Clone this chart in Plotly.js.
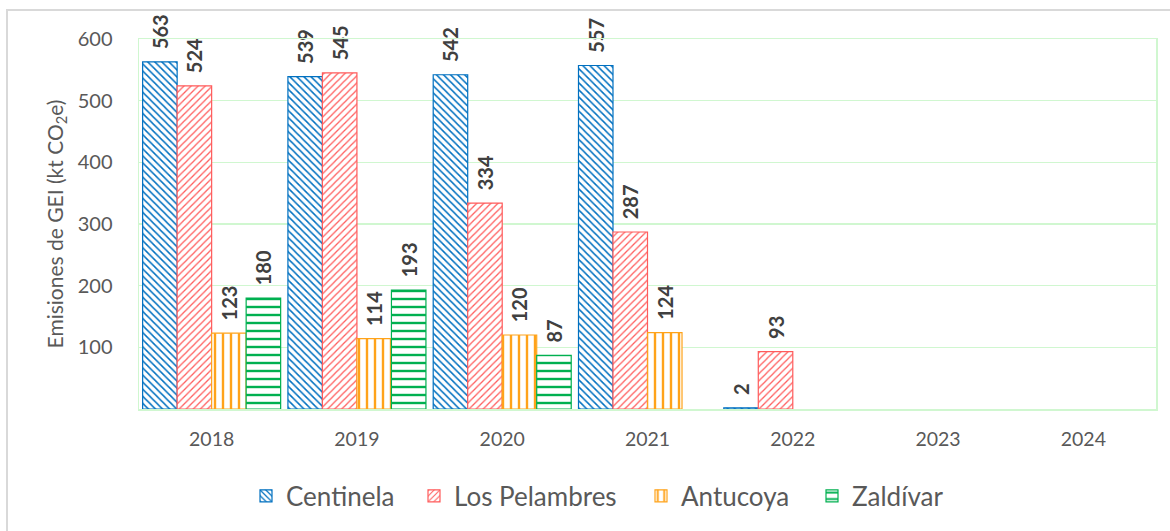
<!DOCTYPE html>
<html>
<head>
<meta charset="utf-8">
<script src="https://cdn.plot.ly/plotly-3.0.1.min.js"></script>
<style>
html,body{margin:0;padding:0;overflow:hidden;background:#fff;}
#frame{position:absolute;left:6px;top:9px;width:1300px;height:700px;border:2.5px solid #d9d9d9;box-sizing:border-box;}
#chart{position:absolute;left:0;top:0;width:1170px;height:531px;}
</style>
</head>
<body>
<div id="frame"></div>
<div id="chart"></div>
<script>
const years = ["2018","2019","2020","2021","2022","2023","2024"];
const centinela = [563, 539, 542, 557, 2, null, null];
const losPelambres = [524, 545, 334, 287, 93, null, null];
const antucoya = [123, 114, 120, 124, null, null, null];
const zaldivar = [180, 193, 87, null, null, null, null];
const yTicks = [100, 200, 300, 400, 500, 600];

const FONT = "Lato, 'Open Sans', sans-serif";
const GAP = '\u00a0\u00a0';

function mk(name, y, color, shape, size, solidity, legendId) {
  return {
    type: 'bar', name: name, x: years, y: y, legend: legendId,
    marker: {
      color: color,
      line: {color: color, width: 1.2},
      pattern: {shape: shape, fgcolor: color, bgcolor: 'white', size: size, solidity: solidity, fillmode: 'replace'}
    },
    texttemplate: GAP + '%{y}', textposition: 'outside', textangle: -90,
    textfont: {family: FONT, size: 20, color: '#404040', weight: 'bold'},
    cliponaxis: false, constraintext: 'none'
  };
}

const data = [
  mk('Centinela', centinela, '#0070c0', '\\', 5, 0.3, 'legend'),
  mk('Los Pelambres', losPelambres, '#ff5b5b', '/', 5, 0.25, 'legend2'),
  mk('Antucoya', antucoya, '#ffa31a', '|', 8, 0.3, 'legend3'),
  mk('Zaldívar', zaldivar, '#00b050', '-', 8, 0.3, 'legend4')
];

const PL = 139, PW = 1017;
function leg(px) {
  return {orientation: 'h', x: (px - PL) / PW, xanchor: 'left', y: -0.235, yanchor: 'middle',
          bgcolor: 'rgba(0,0,0,0)', itemwidth: 30,
          font: {family: FONT, size: 26, color: '#595959'}};
}

const layout = {
  width: 1170, height: 531,
  margin: {l: 139, r: 14, t: 39, b: 122},
  paper_bgcolor: 'rgba(0,0,0,0)', plot_bgcolor: 'white',
  barmode: 'group', bargap: 0.05, bargroupgap: 0,
  font: {family: FONT, color: '#595959'},
  showlegend: true,
  legend: leg(246),
  legend2: leg(414),
  legend3: leg(641),
  legend4: leg(812),
  xaxis: {
    type: 'category', categoryorder: 'array', categoryarray: years, range: [-0.5, 6.5],
    showgrid: false, showline: true, linecolor: '#d0f7d0', linewidth: 1.5, mirror: true,
    ticks: 'outside', ticklen: 12, tickcolor: 'rgba(0,0,0,0)',
    tickfont: {family: FONT, size: 19.5, color: '#595959'}, zeroline: false
  },
  yaxis: {
    range: [0, 600], tickvals: yTicks, ticktext: yTicks.map(String),
    showgrid: true, gridcolor: '#d0f7d0', gridwidth: 1.5,
    showline: true, linecolor: '#d0f7d0', linewidth: 1.5, mirror: true,
    zeroline: false,
    ticks: 'outside', ticklen: 21, tickcolor: 'rgba(0,0,0,0)',
    tickfont: {family: FONT, size: 20, color: '#595959'},
    title: {text: 'Emisiones de GEI (kt CO<sub>2</sub>e)', font: {family: FONT, size: 21, color: '#595959'}, standoff: 8}
  }
};

Plotly.newPlot('chart', data, layout, {displayModeBar: false, staticPlot: true});
</script>
</body>
</html>
